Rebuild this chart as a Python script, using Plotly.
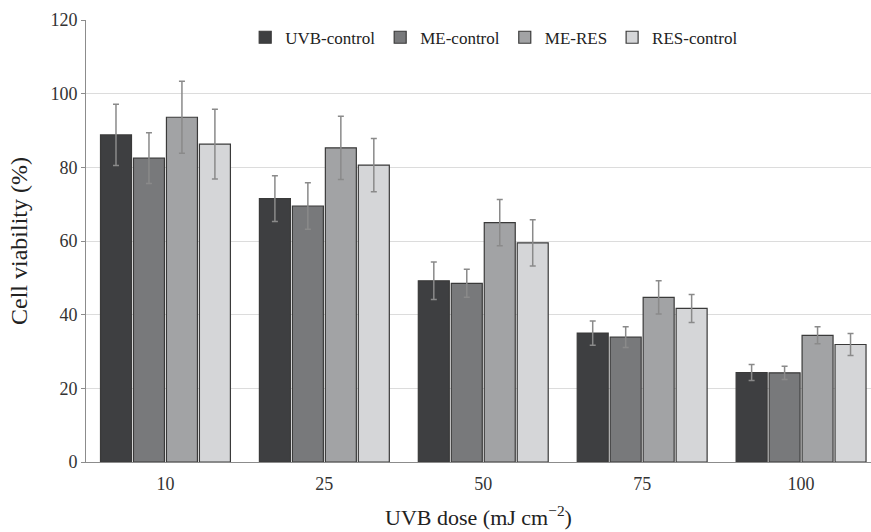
import plotly.graph_objects as go

doses = ["10", "25", "50", "75", "100"]
series_names = ["UVB-control", "ME-control", "ME-RES", "RES-control"]
uvb_control = [88.8, 71.5, 49.2, 35.0, 24.3]
uvb_control_err = [8.3, 6.2, 5.1, 3.3, 2.2]
me_control = [82.5, 69.5, 48.5, 33.9, 24.2]
me_control_err = [6.9, 6.3, 3.8, 2.8, 1.8]
me_res = [93.6, 85.3, 65.0, 44.7, 34.4]
me_res_err = [9.8, 8.6, 6.3, 4.5, 2.3]
res_control = [86.3, 80.6, 59.5, 41.7, 31.9]
res_control_err = [9.5, 7.2, 6.3, 3.8, 3.0]

values = [uvb_control, me_control, me_res, res_control]
errors = [uvb_control_err, me_control_err, me_res_err, res_control_err]
colors = ["#3e3f41", "#78797b", "#a2a3a5", "#d5d6d8"]

FONT = "Liberation Serif, Times New Roman, serif"

fig = go.Figure()
for name, v, e, c in zip(series_names, values, errors, colors):
    fig.add_trace(go.Bar(
        name=name, x=doses, y=v,
        marker=dict(color=c, line=dict(color="#3a3a3a", width=1.2)),
        error_y=dict(type="data", array=e, visible=True, color="#8a8a8a",
                     thickness=1.5, width=3),
    ))

fig.update_layout(
    width=871, height=532,
    margin=dict(l=86, r=0, t=20, b=70),
    paper_bgcolor="white", plot_bgcolor="white",
    barmode="group", bargap=0.17, bargroupgap=0.06,
    font=dict(family=FONT, size=18, color="#333333"),
    showlegend=True,
    legend=dict(orientation="h", x=0.52, xanchor="center", y=0.96, yanchor="middle",
                font=dict(family=FONT, size=17, color="#222222"),
                itemwidth=30, tracegroupgap=0, bgcolor="rgba(0,0,0,0)"),
    xaxis=dict(
        type="category", range=[-0.5, 4.44],
        showline=True, linecolor="#8c8c8c", linewidth=1,
        ticks="", showgrid=False,
        ticklabelstandoff=5,
        tickfont=dict(family=FONT, size=18, color="#333333"),
        title=dict(text="UVB dose (mJ cm<sup>\u22122</sup>)", standoff=17,
                   font=dict(family=FONT, size=22, color="#222222")),
    ),
    yaxis=dict(
        range=[0, 120], dtick=20,
        showline=True, linecolor="#8c8c8c", linewidth=1,
        ticks="outside", ticklen=4, tickcolor="#8c8c8c",
        showgrid=True, gridcolor="#dcdcdc", gridwidth=1,
        zeroline=False,
        tickfont=dict(family=FONT, size=18, color="#333333"),
        title=dict(text="Cell viability (%)", standoff=16,
                   font=dict(family=FONT, size=24, color="#222222")),
    ),
)

fig.write_html("out.html", config={"displayModeBar": False},
               post_script="document.body.style.margin='0';document.body.style.overflow='hidden';")
